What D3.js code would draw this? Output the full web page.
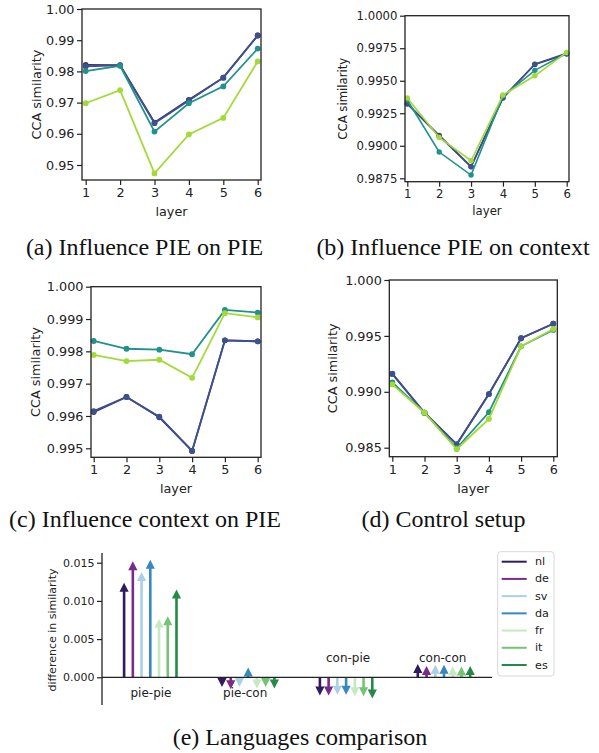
<!DOCTYPE html>
<html><head><meta charset="utf-8">
<script src="https://cdn.jsdelivr.net/npm/d3@7"></script>
<style>html,body{margin:0;padding:0;background:#fff;} svg{display:block;}</style>
</head><body>
<svg id="c" width="599" height="753"></svg>
<script>
// ---------- DATA ----------
const layers = [1, 2, 3, 4, 5, 6];
const seriesNames = ["s1", "s2", "s3", "s4"];
const seriesColors = ["#472c7a", "#3b528b", "#21918c", "#a2da37"];

// (a) Influence PIE on PIE
const aS1 = [0.9821, 0.9820, 0.9636, 0.9709, 0.9780, 0.9915];
const aS2 = [0.9816, 0.9819, 0.9634, 0.9707, 0.9780, 0.9915];
const aS3 = [0.9801, 0.9818, 0.9607, 0.9698, 0.9752, 0.9873];
const aS4 = [0.9698, 0.9740, 0.9473, 0.9598, 0.9651, 0.9832];
// (b) Influence PIE on context
const bS1 = [0.99325, 0.99080, 0.98840, 0.99370, 0.99625, 0.99705];
const bS2 = [0.99321, 0.99075, 0.98838, 0.99367, 0.99628, 0.99711];
const bS3 = [0.99352, 0.98952, 0.98775, 0.99382, 0.99580, 0.99711];
const bS4 = [0.99367, 0.99064, 0.98885, 0.99390, 0.99538, 0.99718];
// (c) Influence context on PIE
const cS1 = [0.99612, 0.99659, 0.99596, 0.99492, 0.99834, 0.99831];
const cS2 = [0.99615, 0.99659, 0.99598, 0.99492, 0.99834, 0.99831];
const cS3 = [0.99832, 0.99808, 0.99805, 0.99791, 0.99928, 0.99920];
const cS4 = [0.99789, 0.99770, 0.99774, 0.99718, 0.99918, 0.99905];
// (d) Control setup
const dS1 = [0.99160, 0.98813, 0.98530, 0.98980, 0.99479, 0.99609];
const dS2 = [0.99162, 0.98813, 0.98530, 0.98980, 0.99479, 0.99609];
const dS3 = [0.99085, 0.98813, 0.98495, 0.98817, 0.99407, 0.99553];
const dS4 = [0.99066, 0.98813, 0.98486, 0.98757, 0.99407, 0.99562];

const aTicks = [0.95, 0.96, 0.97, 0.98, 0.99, 1.00];
const bTicks = [0.9875, 0.9900, 0.9925, 0.9950, 0.9975, 1.0000];
const cTicks = [0.995, 0.996, 0.997, 0.998, 0.999, 1.000];
const dTicks = [0.985, 0.990, 0.995, 1.000];

// (e) Languages comparison (arrow lengths)
const groups = ["pie-pie", "pie-con", "con-pie", "con-con"];
const languages = ["nl", "de", "sv", "da", "fr", "it", "es"];
const langColors = ["#2f1b5e", "#7a2a8a", "#abd0e6", "#3787c0", "#c7e9c0", "#74c476", "#238b45"];
const diffPiePie = [0.0112, 0.0140, 0.0126, 0.0142, 0.0065, 0.0068, 0.0103];
const diffPieCon = [-0.0001, -0.0004, -0.0001, 0.0001, -0.0003, -0.0001, -0.0003];
const diffConPie = [-0.0012, -0.0012, -0.0011, -0.0011, -0.0013, -0.0013, -0.0016];
const diffConCon = [0.00056, 0.0003, 0.00047, 0.00047, 0.00022, 0.00022, 0.0003];
const eTicks = [0.000, 0.005, 0.010, 0.015];

// ---------- DRAW ----------
const svg = d3.select("#c");
const SANS = "DejaVu Sans";
const SERIF = "Liberation Serif";
const CAP_FS = 24;

function caption(x, y, t) {
  svg.append("text").attr("x", x).attr("y", y).attr("text-anchor", "middle")
    .attr("font-family", SERIF).attr("font-size", CAP_FS).attr("fill", "#111").text(t);
}

function linePanel(p) {
  const g = svg.append("g");
  const x = d3.scaleLinear().domain([1, 6]).range(p.xr);
  const y = d3.scaleLinear().domain([p.ticks[0], p.ticks[p.ticks.length - 1]]).range(p.yr);
  p.data.forEach((vals, si) => {
    const pts = layers.map((l, i) => [x(l), y(vals[i])]);
    g.append("path").attr("d", d3.line()(pts)).attr("fill", "none")
      .attr("stroke", seriesColors[si]).attr("stroke-width", p.lw);
    g.selectAll(null).data(pts).enter().append("circle")
      .attr("cx", d => d[0]).attr("cy", d => d[1]).attr("r", p.r)
      .attr("fill", seriesColors[si]);
  });
  g.append("rect").attr("x", p.box[0]).attr("y", p.box[1])
    .attr("width", p.box[2] - p.box[0]).attr("height", p.box[3] - p.box[1])
    .attr("fill", "none").attr("stroke", "#222").attr("stroke-width", 1.3);
  const ya = d3.axisLeft(y).tickValues(p.ticks).tickFormat(d3.format(p.fmt)).tickSize(5).tickPadding(2.5);
  const gy = g.append("g").attr("transform", `translate(${p.box[0]},0)`).call(ya);
  gy.select(".domain").remove();
  gy.selectAll("line").attr("stroke", "#222").attr("stroke-width", 1.2);
  gy.selectAll("text").attr("font-family", SANS).attr("font-size", p.fs).attr("fill", "#222");
  const xa = d3.axisBottom(x).tickValues(layers).tickFormat(d3.format("d")).tickSize(5).tickPadding(3);
  const gx = g.append("g").attr("transform", `translate(0,${p.box[3]})`).call(xa);
  gx.select(".domain").remove();
  gx.selectAll("line").attr("stroke", "#222").attr("stroke-width", 1.2);
  gx.selectAll("text").attr("font-family", SANS).attr("font-size", p.fs).attr("fill", "#222");
  g.append("text").attr("x", (p.box[0] + p.box[2]) / 2).attr("y", p.xlY)
    .attr("text-anchor", "middle").attr("dominant-baseline", "central")
    .attr("font-family", SANS).attr("font-size", p.fs).attr("fill", "#222").text("layer");
  g.append("text").attr("transform", `translate(${p.ylX},${(p.box[1] + p.box[3]) / 2}) rotate(-90)`)
    .attr("text-anchor", "middle").attr("dominant-baseline", "central")
    .attr("font-family", SANS).attr("font-size", p.fs).attr("fill", "#222").text("CCA similarity");
  caption(p.cap[0], p.cap[1], p.caption);
}

linePanel({ data: [aS1, aS2, aS3, aS4], ticks: aTicks, fmt: ".2f",
  box: [82, 9, 261, 180], xr: [85.7, 257.7], yr: [165, 9], fs: 12.8, lw: 1.8, r: 2.9,
  xlY: 211, ylX: 36, cap: [144.5, 255], caption: "(a) Influence PIE on PIE" });
linePanel({ data: [bS1, bS2, bS3, bS4], ticks: bTicks, fmt: ".4f",
  box: [405, 15.7, 569, 181.7], xr: [407.3, 566.7], yr: [178.3, 15.7], fs: 11.7, lw: 1.6, r: 2.7,
  xlY: 211, ylX: 343, cap: [453, 255], caption: "(b) Influence PIE on context" });
linePanel({ data: [cS1, cS2, cS3, cS4], ticks: cTicks, fmt: ".3f",
  box: [91, 286.7, 261, 457.3], xr: [93.7, 257.7], yr: [448.3, 286.7], fs: 12.8, lw: 1.8, r: 2.9,
  xlY: 488.5, ylX: 35, cap: [145, 527], caption: "(c) Influence context on PIE" });
linePanel({ data: [dS1, dS2, dS3, dS4], ticks: dTicks, fmt: ".3f",
  box: [389.3, 280, 557.3, 456.7], xr: [392.3, 553.3], yr: [447.7, 280], fs: 12.8, lw: 1.8, r: 2.9,
  xlY: 488.5, ylX: 332, cap: [443.5, 527], caption: "(d) Control setup" });

// ----- panel (e) -----
(function () {
  const g = svg.append("g");
  const diffs = [diffPiePie, diffPieCon, diffConPie, diffConCon];
  const gx = d3.scalePoint().domain(groups).range([150.3, 444]);
  const lx = d3.scalePoint().domain(languages).range([-26.2, 26.2]);
  const y = d3.scaleLinear().domain([0, 0.015]).range([677.3, 562.7]);
  const headL = 9, headW = 9.2, shaftW = 2.6;

  groups.forEach((grp, gi) => {
    languages.forEach((lang, li) => {
      const v = diffs[gi][li];
      const cx = gx(grp) + lx(lang);
      const y0 = y(0), y1 = y(v);
      const dir = v >= 0 ? -1 : 1;
      const tip = y1 + dir * headL;
      const hw = shaftW / 2;
      const path = d3.path();
      path.moveTo(cx - hw, y0);
      path.lineTo(cx - hw, y1);
      path.lineTo(cx - headW / 2, y1);
      path.lineTo(cx, tip);
      path.lineTo(cx + headW / 2, y1);
      path.lineTo(cx + hw, y1);
      path.lineTo(cx + hw, y0);
      path.closePath();
      g.append("path").attr("d", path.toString()).attr("fill", langColors[li]);
    });
  });

  g.append("line").attr("x1", 102).attr("x2", 492).attr("y1", y(0)).attr("y2", y(0))
    .attr("stroke", "#222").attr("stroke-width", 1.3);
  const ya = d3.axisLeft(y).tickValues(eTicks).tickFormat(d3.format(".3f")).tickSize(5).tickPadding(2.5);
  const gy = g.append("g").attr("transform", "translate(102,0)").call(ya);
  gy.select(".domain").remove();
  gy.selectAll("line").attr("stroke", "#222").attr("stroke-width", 1.2);
  gy.selectAll("text").attr("font-family", SANS).attr("font-size", 11).attr("fill", "#222");
  g.append("line").attr("x1", 102).attr("x2", 102).attr("y1", 553).attr("y2", 705)
    .attr("stroke", "#222").attr("stroke-width", 1.3);

  g.append("text").attr("transform", "translate(52,630) rotate(-90)")
    .attr("text-anchor", "middle").attr("dominant-baseline", "central")
    .attr("font-family", SANS).attr("font-size", 11).attr("fill", "#222").text("difference in similarity");

  const labelY = [693, 693, 658, 658];
  const labelDx = [0.7, -3, 2, -1.3];
  groups.forEach((grp, gi) => {
    g.append("text").attr("x", gx(grp) + labelDx[gi]).attr("y", labelY[gi])
      .attr("text-anchor", "middle").attr("dominant-baseline", "central")
      .attr("font-family", SANS).attr("font-size", 12).attr("fill", "#222").text(grp);
  });

  const lg = g.append("g");
  lg.append("rect").attr("x", 497.7).attr("y", 551.7).attr("width", 56.3).attr("height", 124.3)
    .attr("rx", 3).attr("fill", "#fff").attr("stroke", "#d8d8d8").attr("stroke-width", 1);
  const ly = d3.scalePoint().domain(languages).range([561.7, 665]);
  languages.forEach((lang, li) => {
    lg.append("line").attr("x1", 501.7).attr("x2", 526.7).attr("y1", ly(lang)).attr("y2", ly(lang))
      .attr("stroke", langColors[li]).attr("stroke-width", 2);
    lg.append("text").attr("x", 535).attr("y", ly(lang)).attr("dominant-baseline", "central")
      .attr("font-family", SANS).attr("font-size", 11.2).attr("fill", "#222").text(lang);
  });

  caption(300, 745, "(e) Languages comparison");
})();
</script>
</body></html>
